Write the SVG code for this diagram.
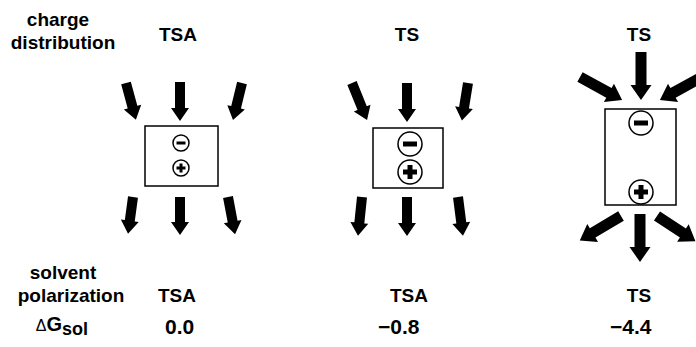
<svg xmlns="http://www.w3.org/2000/svg" xmlns:xlink="http://www.w3.org/1999/xlink" width="696" height="347" viewBox="0 0 696 347">
  <style>
    .lbl { font-family: "Liberation Sans", Arial, sans-serif; font-weight: bold; font-size: 19px; fill: #000; }
    .num { font-family: "Liberation Sans", Arial, sans-serif; font-weight: bold; font-size: 21px; fill: #000; }
    .box { fill: #fff; stroke: #000; stroke-width: 1.5; }
    .chg { fill: #fff; stroke: #000; stroke-width: 1.5; }
    .sign { fill: #000; }
    .arr { fill: #000; }
  </style>
  <defs>
    <!-- block arrows pointing along +y, tail at origin -->
    <path id="a37" d="M-5,0H5V24H9L0,37L-9,24H-5Z"/>
    <path id="a38" d="M-5,0H5V25H9L0,38L-9,25H-5Z"/>
    <path id="a39" d="M-5,0H5V26H9L0,39L-9,26H-5Z"/>
    <path id="a40" d="M-5,0H5V27H9L0,40L-9,27H-5Z"/>
    <path id="b46" d="M-5.5,0H5.5V31H10.5L0,46L-10.5,31H-5.5Z"/>
    <path id="b48" d="M-5.5,0H5.5V33H10.5L0,48L-10.5,33H-5.5Z"/>
  </defs>
  <rect width="696" height="347" fill="#fff"/>

  <!-- row captions -->
  <g id="captions">
    <text class="lbl" x="58" y="26" text-anchor="middle">charge</text>
    <text class="lbl" x="63" y="49" text-anchor="middle">distribution</text>
    <text class="lbl" x="63" y="279" text-anchor="middle">solvent</text>
    <text class="lbl" x="71" y="302" text-anchor="middle">polarization</text>
    <text x="62" y="331" text-anchor="middle" font-family="Liberation Sans, Arial, sans-serif" fill="#000"><tspan font-size="16">Δ</tspan><tspan font-size="20" font-weight="bold">G</tspan><tspan font-size="18" font-weight="bold" dy="4">sol</tspan></text>
  </g>

  <!-- arrows (solvent field) -->
  <g id="arrows" class="arr">
    <use xlink:href="#a38" transform="translate(126,83) rotate(-15.1)"/>
    <use xlink:href="#a39" transform="translate(180,82)"/>
    <use xlink:href="#a38" transform="translate(242,83) rotate(13.7)"/>
    <use xlink:href="#a37" transform="translate(133,197) rotate(7.7)"/>
    <use xlink:href="#a38" transform="translate(180,197)"/>
    <use xlink:href="#a38" transform="translate(228,197) rotate(-10.7)"/>

    <use xlink:href="#a40" transform="translate(352,83) rotate(-22.1)"/>
    <use xlink:href="#a39" transform="translate(407,83)"/>
    <use xlink:href="#a38" transform="translate(468,83) rotate(9.2)"/>
    <use xlink:href="#a39" transform="translate(362,197) rotate(5.9)"/>
    <use xlink:href="#a39" transform="translate(407,197)"/>
    <use xlink:href="#a39" transform="translate(458,197) rotate(-7.3)"/>

    <use xlink:href="#b48" transform="translate(580,77) rotate(-61.3)"/>
    <use xlink:href="#b48" transform="translate(641,52)"/>
    <use xlink:href="#b48" transform="translate(702,77) rotate(61.3)"/>
    <use xlink:href="#b48" transform="translate(621,216) rotate(59.2)"/>
    <use xlink:href="#b48" transform="translate(640,214)"/>
    <use xlink:href="#b46" transform="translate(657,216) rotate(-56.7)"/>
  </g>

  <!-- TSA: compact ion pair -->
  <g id="tsa">
    <text class="lbl" x="178" y="41" text-anchor="middle">TSA</text>
    <rect class="box" x="145" y="126" width="73" height="60"/>
    <circle class="chg" cx="181" cy="143" r="8"/>
    <rect class="sign" x="176.5" y="141.5" width="9" height="3"/>
    <circle class="chg" cx="181" cy="168" r="8"/>
    <rect class="sign" x="176.5" y="166.5" width="9" height="3"/>
    <rect class="sign" x="179.5" y="163.5" width="3" height="9"/>
    <text class="lbl" x="177" y="302" text-anchor="middle">TSA</text>
    <text class="num" x="165" y="334">0.0</text>
  </g>

  <!-- TS charges in TSA solvent -->
  <g id="ts-tsa">
    <text class="lbl" x="407" y="41" text-anchor="middle">TS</text>
    <rect class="box" x="373" y="128" width="70" height="60"/>
    <circle class="chg" cx="410" cy="144" r="12"/>
    <rect class="sign" x="403" y="141.5" width="14" height="5"/>
    <circle class="chg" cx="410" cy="172" r="12"/>
    <rect class="sign" x="403" y="169.5" width="14" height="5"/>
    <rect class="sign" x="407.5" y="165" width="5" height="14"/>
    <text class="lbl" x="409" y="302" text-anchor="middle">TSA</text>
    <text class="num" x="378" y="334">−0.8</text>
  </g>

  <!-- TS: separated charges -->
  <g id="ts">
    <text class="lbl" x="639" y="41" text-anchor="middle">TS</text>
    <rect class="box" x="605" y="109" width="71" height="96"/>
    <circle class="chg" cx="641" cy="123" r="12"/>
    <rect class="sign" x="634" y="120.5" width="14" height="5"/>
    <circle class="chg" cx="641" cy="192" r="12"/>
    <rect class="sign" x="634" y="189.5" width="14" height="5"/>
    <rect class="sign" x="638.5" y="185" width="5" height="14"/>
    <text class="lbl" x="639" y="302" text-anchor="middle">TS</text>
    <text class="num" x="610" y="334">−4.4</text>
  </g>
</svg>
